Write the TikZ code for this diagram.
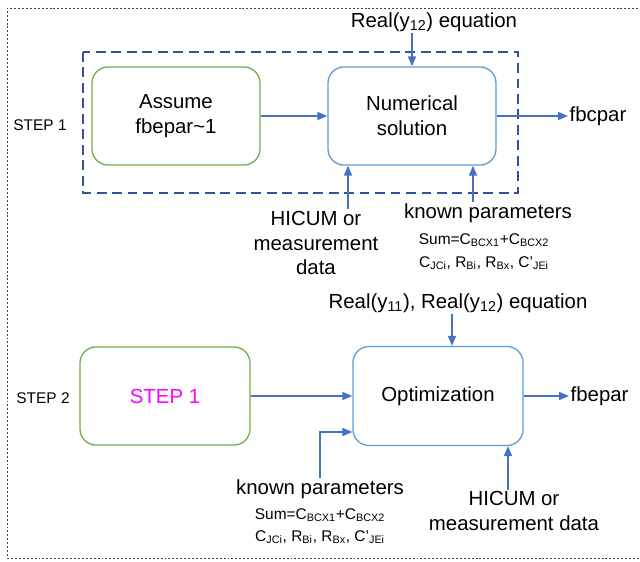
\documentclass[tikz,border=0pt]{standalone}
\usepackage{fontspec}
\setmainfont{Liberation Sans}
\usetikzlibrary{arrows.meta}
\definecolor{boxgreen}{HTML}{70AD47}
\definecolor{boxblue}{HTML}{5B9BD5}
\definecolor{arrblue}{HTML}{4472C4}
\definecolor{dashblue}{HTML}{2F5597}
\definecolor{stepmag}{HTML}{FF00FF}
\begin{document}
\begin{tikzpicture}[x=0.025cm,y=-0.025cm,
	greenbox/.style={draw=boxgreen,line width=0.9pt,rounded corners=0.4cm,minimum width=4.2cm,minimum height=2.45cm,align=center,font=\fontsize{14.5}{17.7}\selectfont},
	bluebox/.style={greenbox,draw=boxblue},
	lbl/.style={font=\fontsize{14.5}{17.7}\selectfont,align=center,inner sep=1pt},
	parline/.style={font=\fontsize{11}{13}\selectfont,inner sep=1pt},
	steplbl/.style={font=\fontsize{11}{13}\selectfont},
	arr/.style={draw=arrblue,line width=1.1pt,-{Triangle[length=0.25cm,width=0.2cm]}}]
	\useasboundingbox (0,0) rectangle (640,561);
	% frames
	\draw[black!75,dash pattern=on 1.4pt off 1.4pt] (650,8) -- (7,8) -- (7,558) -- (650,558);
	\draw[dashblue,line width=1.6pt,dash pattern=on 7pt off 4pt] (83,52) rectangle (518,193);
	% step 1
	\node[steplbl] (step1) at (40,125) {STEP 1};
	\node[greenbox] (assume) at (176,116) {Assume\\fbepar\textasciitilde1};
	\node[bluebox] (numsol) at (412,116) {Numerical\\solution};
	\node[lbl,anchor=west] (fbc) at (568,116) {fbcpar};
	\node[lbl] (real1) at (434,22) {Real(y\textsubscript{12}) equation};
	\node[lbl] (hic1) at (316,243) {HICUM or\\measurement\\data};
	\node[lbl] (kp1) at (488,213) {known parameters};
	\node[parline] (sum1) at (484,240) {Sum=C\textsubscript{BCX1}+C\textsubscript{BCX2}};
	\node[parline] (cj1) at (484,263) {C\textsubscript{JCi}, R\textsubscript{Bi}, R\textsubscript{Bx}, C'\textsubscript{JEi}};
	\draw[arr] (assume) -- (numsol);
	\draw[arr] (numsol) -- (fbc);
	\draw[arr] (real1.south -| numsol.north) -- (numsol.north);
	\draw[arr] ([xshift=0.8cm]hic1.north) -- ([xshift=0.8cm]hic1.north |- numsol.south);
	\draw[arr] ([xshift=-0.375cm]kp1.north) -- ([xshift=-0.375cm]kp1.north |- numsol.south);
	% step 2
	\node[steplbl] (step2) at (43,398) {STEP 2};
	\node[greenbox,minimum width=4.25cm] (prev) at (165,396) {\textcolor{stepmag}{STEP 1}};
	\node[bluebox,minimum width=4.25cm,minimum height=2.475cm] (opt) at (438,396) {Optimization};
	\node[lbl,anchor=west] (fbe) at (569,396) {fbepar};
	\node[lbl] (real2) at (458,303) {Real(y\textsubscript{11}), Real(y\textsubscript{12}) equation};
	\node[lbl] (kp2) at (320,489) {known parameters};
	\node[parline] (sum2) at (320,515) {Sum=C\textsubscript{BCX1}+C\textsubscript{BCX2}};
	\node[parline] (cj2) at (320,537) {C\textsubscript{JCi}, R\textsubscript{Bi}, R\textsubscript{Bx}, C'\textsubscript{JEi}};
	\node[lbl] (hic2) at (514,511) {HICUM or\\measurement data};
	\draw[arr] (prev) -- (opt);
	\draw[arr] (opt) -- (fbe);
	\draw[arr] ([xshift=-0.15cm]real2.south) -- ([xshift=-0.15cm]real2.south |- opt.north);
	\draw[arr] (kp2.north) |- ([yshift=-0.9cm]opt.west);
	\draw[arr] ([xshift=-0.15cm]hic2.north) -- ([xshift=-0.15cm]hic2.north |- opt.south);
\end{tikzpicture}
\end{document}
